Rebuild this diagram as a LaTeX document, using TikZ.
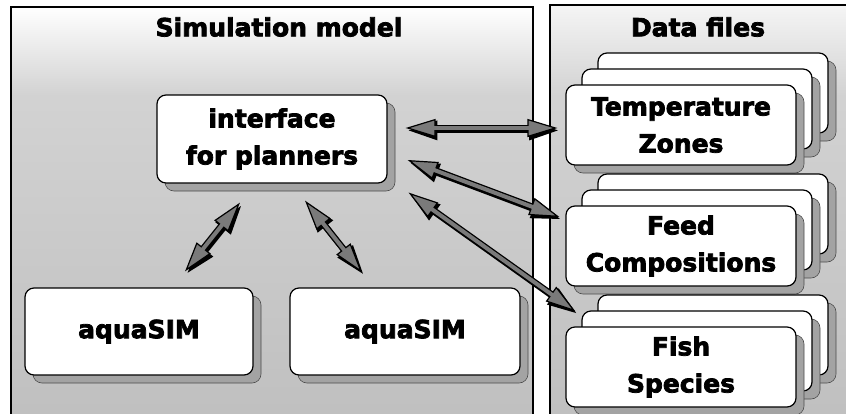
\documentclass[tikz,border=0pt]{standalone}
\usepackage{fontspec}
\setmainfont{DejaVu Sans}
\newfontfamily\heavy{DejaVu Sans Bold}[FakeBold=3]
\usetikzlibrary{arrows.meta,calc}
\colorlet{arrowgray}{black!52}
\tikzset{
  title/.style={font=\fontsize{25}{30}\selectfont\heavy,inner sep=0pt},
  box/.style={draw=black,line width=1.2pt,fill=white,rounded corners=9pt,align=center,
    font=\fontsize{25}{37}\selectfont\heavy,inner sep=0pt,
    preaction={fill=gray!72,draw=gray!60!black,line width=0.6pt,transform canvas={shift={(8pt,-8pt)}}}},
  filebox/.style={box,minimum width=230pt,minimum height=80pt},
  tipfill/.tip={Triangle[length=30pt,width=18pt,fill=arrowgray,line width=1.2pt]},
  tipsolid/.tip={Triangle[length=30pt,width=18pt]},
  dblshadow/.style={{tipsolid}-{tipsolid},line width=6pt,black,
    transform canvas={shift={(1.8pt,-2.4pt)}}},
  dbloutline/.style={{tipfill}-{tipfill},line width=6.6pt,black},
  dblinner/.style={line width=4pt,arrowgray,shorten >=26pt,shorten <=26pt},
}
\newcommand\dblarrow[2]{\draw[dblshadow] #1 -- #2; \draw[dbloutline] #1 -- #2; \draw[dblinner] #1 -- #2;}
\begin{document}
\begin{tikzpicture}[x=1pt,y=-1pt]
\useasboundingbox (0,0) rectangle (846,413);
\fill[white] (0,0) rectangle (846,413);
% panels
\shade[top color=white,bottom color=gray!35] (11,7) rectangle (533,95);
\shade[top color=gray!35,bottom color=gray!50] (11,95) rectangle (533,425);
\draw[line width=1.3pt] (11,7) rectangle (533,425);
\shade[top color=gray!8,bottom color=gray!35] (550,5) rectangle (852,95);
\shade[top color=gray!35,bottom color=gray!50] (550,95) rectangle (852,425);
\draw[line width=1.3pt] (550,5) rectangle (852,425);
\node[title] (t1) at (279,27) {Simulation model};
\node[title] (t2) at (698,27) {Data files};
% simulation model boxes
\node[box,minimum width=230pt,minimum height=88pt] (iface) at (272,139) {interface\\for planners};
\node[box,minimum width=228pt,minimum height=87pt] (aq1) at (139,331.5) {aquaSIM};
\node[box,minimum width=230pt,minimum height=87pt] (aq2) at (405,331.5) {aquaSIM};
% data files stacks
\node[filebox] (tempB) at (713,93) {};
\node[filebox] (tempM) at (697,109) {};
\node[filebox] (temp) at (681,125) {Temperature\\Zones};
\node[filebox] (feedB) at (713,214) {};
\node[filebox] (feedM) at (697,230) {};
\node[filebox] (feed) at (681,246) {Feed\\Compositions};
\node[filebox] (fishB) at (713,335) {};
\node[filebox] (fishM) at (697,351) {};
\node[filebox] (fish) at (681,367) {Fish\\Species};
% arrows
\dblarrow{([xshift=18pt,yshift=11pt]iface.east)}{([xshift=-8pt,yshift=-3pt]temp.west)}
\dblarrow{([xshift=20pt,yshift=-21pt]iface.east)}{([xshift=-6pt,yshift=29pt]feed.west)}
\dblarrow{([xshift=21pt,yshift=-9pt]iface.south east)}{([xshift=10pt,yshift=15pt]fish.north west)}
\dblarrow{([xshift=-32pt,yshift=-19pt]iface.south)}{([xshift=46pt,yshift=16pt]aq1.north)}
\dblarrow{([xshift=33pt,yshift=-17pt]iface.south)}{([xshift=-43pt,yshift=15pt]aq2.north)}
\end{tikzpicture}
\end{document}
